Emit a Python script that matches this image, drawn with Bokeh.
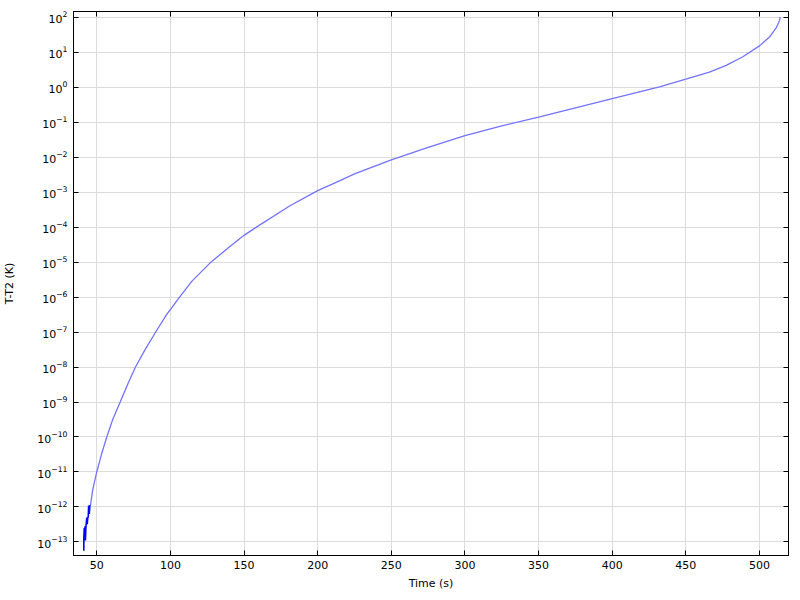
from bokeh.plotting import figure
from bokeh.models import Range1d, FixedTicker, LinearAxis, LogAxis, LogTickFormatter
from bokeh.embed import file_html
from bokeh.resources import INLINE

# curve (time in s, T-T2 in K)
time_s = [45.7, 47.3, 50.0, 53.2, 56.8, 60.9, 65.9, 71.0, 76.3, 82.9, 90.0,
          97.5, 100.0, 105.7, 114.5, 127.0, 140.0, 150.0, 157.6, 180.9, 200.0,
          214.8, 225.0, 250.0, 275.0, 300.0, 325.0, 350.0, 375.0, 400.0, 432.1,
          450.0, 466.0, 477.4, 488.7, 500.0, 506.8, 511.3, 513.6, 514.0]
dT = [1.1e-12, 3.2e-12, 1.0e-11, 3.2e-11, 1.0e-10, 3.2e-10, 1.0e-9, 3.2e-9,
      1.0e-8, 3.2e-8, 1.0e-7, 3.2e-7, 4.4e-7, 9.3e-7, 2.8e-6, 9.5e-6, 2.7e-5,
      5.8e-5, 9.5e-5, 4.0e-4, 1.1e-3, 2.1e-3, 3.3e-3, 8.3e-3, 1.9e-2, 4.1e-2,
      7.8e-2, 0.138, 0.257, 0.47, 1.02, 1.70, 2.69, 4.17, 7.4, 15.1, 26.9, 49.0,
      79.0, 100.0]

# numerical noise at the very start of the curve
noise_t = [41.2, 41.2, 41.5, 41.7, 42.0, 42.3, 42.6, 42.8, 43.2, 43.5, 43.9,
           44.2, 44.5, 44.9, 45.3, 45.7]
noise_dT = [5.6e-14, 1.2e-13, 2.5e-13, 1.1e-13, 2.8e-13, 1.1e-13, 2.5e-13, 3.2e-13,
            5.0e-13, 3.2e-13, 5.0e-13, 5.2e-13, 1.1e-12, 6.3e-13, 1.1e-12, 1.1e-12]

x_ticks = [50, 100, 150, 200, 250, 300, 350, 400, 450, 500]
y_ticks = [1e-13, 1e-12, 1e-11, 1e-10, 1e-9, 1e-8, 1e-7, 1e-6, 1e-5, 1e-4,
           1e-3, 1e-2, 1e-1, 1e0, 1e1, 1e2]

FONT = "DejaVu Sans"

p = figure(
    frame_width=715, frame_height=544,
    x_range=Range1d(34.2, 519.7),
    y_range=Range1d(4.1e-14, 145),
    y_axis_type="log",
    x_axis_label="Time (s)",
    y_axis_label="T-T2 (K)",
    output_backend="svg",
    toolbar_location=None,
    min_border_left=66, min_border_right=3,
    min_border_top=11, min_border_bottom=30,
)

p.line(time_s, dT, line_color="#7373ff", line_width=1.3)
p.line(noise_t, noise_dT, line_color="#0000ff", line_width=1.6)

p.xaxis.ticker = FixedTicker(ticks=x_ticks)
p.yaxis.ticker = FixedTicker(ticks=y_ticks)
p.yaxis.formatter = LogTickFormatter()

top = LinearAxis(ticker=FixedTicker(ticks=x_ticks))
right = LogAxis(ticker=FixedTicker(ticks=y_ticks))
p.add_layout(top, "above")
p.add_layout(right, "right")

for ax in p.axis:
    ax.axis_line_color = "black"
    ax.axis_line_width = 1
    ax.major_tick_line_color = "black"
    ax.major_tick_in = 5
    ax.major_tick_out = 0
    ax.minor_tick_line_color = None
    ax.major_label_text_font = FONT
    ax.major_label_text_font_size = "11px"
    ax.major_label_text_color = "black"
    ax.axis_label_text_font = FONT
    ax.axis_label_text_font_size = "11px"
    ax.axis_label_text_font_style = "normal"
    ax.axis_label_text_color = "black"

# top and right axes only carry the inward ticks
for ax in (top, right):
    ax.major_label_text_font_size = "1px"
    ax.major_label_text_color = None
    ax.major_label_standoff = 0

p.xaxis[0].major_label_standoff = 4
p.xaxis[0].axis_label_standoff = 4
p.yaxis[0].major_label_standoff = 6
p.yaxis[0].axis_label_standoff = 18

p.grid.grid_line_color = "#dcdcdc"
p.grid.grid_line_width = 1
p.outline_line_color = "black"
p.background_fill_color = "white"
p.border_fill_color = "white"

open("out.html", "w").write(file_html(p, INLINE))
